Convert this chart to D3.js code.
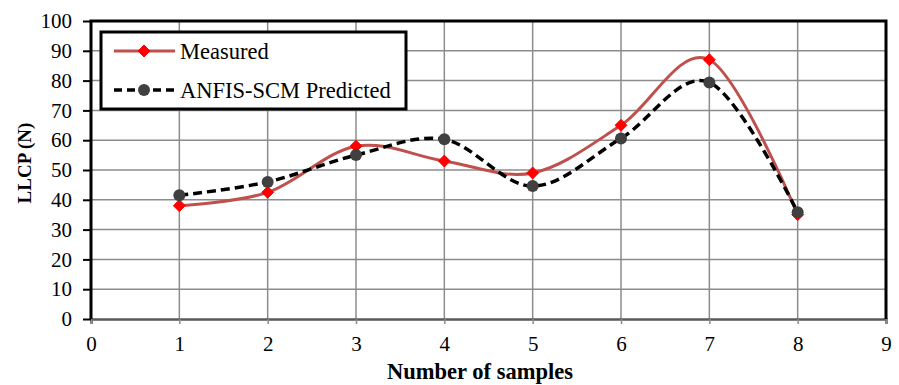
<!DOCTYPE html>
<html>
<head>
<meta charset="utf-8">
<script src="https://cdn.jsdelivr.net/npm/d3@7"></script>
<style>
  body { margin: 0; background: #fff; }
  svg text { font-family: 'Liberation Serif', Tinos, 'Times New Roman', Times, 'DejaVu Serif', serif; fill: #000; }
</style>
</head>
<body>
<div class="chart"></div>
<script>
// values
let samples = [1, 2, 3, 4, 5, 6, 7, 8];
let measured = [38, 42.5, 58, 53, 49, 65, 87, 35];
let predicted = [41.5, 46, 55, 60.3, 44.6, 60.6, 79.4, 35.8];
let xTicks = [0, 1, 2, 3, 4, 5, 6, 7, 8, 9];
let yTicks = [0, 10, 20, 30, 40, 50, 60, 70, 80, 90, 100];
let seriesNames = ["Measured", "ANFIS-SCM Predicted"];

let svgWidth = 899;
let svgHeight = 385;

let margin = { top: 21, right: 13, bottom: 66, left: 91 };
let width = svgWidth - margin.left - margin.right;
let height = svgHeight - margin.top - margin.bottom;

let svg = d3.select(".chart")
  .append("svg")
  .attr("width", svgWidth)
  .attr("height", svgHeight);

let chartGroup = svg.append("g")
  .attr("transform", `translate(${margin.left}, ${margin.top})`);

let xScale = d3.scaleLinear().domain([0, 9]).range([0, width]);
let yScale = d3.scaleLinear().domain([0, 100]).range([height, 0]);

// gridlines
chartGroup.append("g")
  .selectAll("line")
  .data(yTicks.slice(1))
  .enter()
  .append("line")
  .attr("x1", 0).attr("x2", width)
  .attr("y1", d => yScale(d)).attr("y2", d => yScale(d))
  .attr("stroke", "#8c8c8c").attr("stroke-width", 1.5);

chartGroup.append("g")
  .selectAll("line")
  .data(xTicks.slice(1))
  .enter()
  .append("line")
  .attr("x1", d => xScale(d)).attr("x2", d => xScale(d))
  .attr("y1", 0).attr("y2", height)
  .attr("stroke", "#8c8c8c").attr("stroke-width", 1.5);

// axes
let bottomAxis = d3.axisBottom(xScale).tickValues(xTicks).tickSize(5).tickPadding(12);
let leftAxis = d3.axisLeft(yScale).tickValues(yTicks).tickSize(8).tickPadding(11);

let xAxisG = chartGroup.append("g")
  .attr("transform", `translate(0, ${height})`)
  .call(bottomAxis)
  .attr("font-family", null);
xAxisG.select(".domain").attr("stroke", "#595959").attr("stroke-width", 2.5);
xAxisG.selectAll(".tick line").attr("stroke", "#8c8c8c").attr("stroke-width", 1.5);
xAxisG.selectAll(".tick text").style("font-size", "21px").attr("fill", "#000");

let yAxisG = chartGroup.append("g").call(leftAxis).attr("font-family", null);
yAxisG.select(".domain").remove();
yAxisG.selectAll(".tick line").attr("stroke", "#000").attr("stroke-width", 2);
yAxisG.selectAll(".tick text").style("font-size", "21px").attr("fill", "#000");

// plot border (top, left, right)
chartGroup.append("path")
  .attr("d", `M0,${height} V0 H${width} V${height}`)
  .attr("fill", "none")
  .attr("stroke", "#000")
  .attr("stroke-width", 3);

// lines
let lineOf = vals => d3.line()
  .x((d, i) => xScale(samples[i]))
  .y(d => yScale(d))
  .curve(d3.curveCatmullRom.alpha(0))(vals);

chartGroup.append("path")
  .attr("d", lineOf(measured))
  .attr("fill", "none")
  .attr("stroke", "#c0504d")
  .attr("stroke-width", 3);

chartGroup.append("path")
  .attr("d", lineOf(predicted))
  .attr("fill", "none")
  .attr("stroke", "#000")
  .attr("stroke-width", 3.5)
  .attr("stroke-dasharray", "9,5");

// markers
let diamond = d3.symbol().type(d3.symbolDiamond2).size(90);

chartGroup.selectAll(".mPt")
  .data(measured)
  .enter()
  .append("path")
  .attr("class", "mPt")
  .attr("d", diamond)
  .attr("transform", (d, i) => `translate(${xScale(samples[i])}, ${yScale(d)})`)
  .attr("fill", "#ff0000")
  .attr("stroke", "#ff0000")
  .attr("stroke-width", 1);

chartGroup.selectAll(".pPt")
  .data(predicted)
  .enter()
  .append("circle")
  .attr("class", "pPt")
  .attr("cx", (d, i) => xScale(samples[i]))
  .attr("cy", d => yScale(d))
  .attr("r", 6)
  .attr("fill", "#404040");

// legend
let legend = svg.append("g").attr("transform", "translate(101, 32)");
legend.append("rect")
  .attr("width", 305).attr("height", 77)
  .attr("fill", "#fff").attr("stroke", "#000").attr("stroke-width", 3);

let leg1 = legend.append("g").attr("transform", "translate(0, 19)");
leg1.append("line").attr("x1", 13).attr("x2", 74)
  .attr("stroke", "#c0504d").attr("stroke-width", 3);
leg1.append("path").attr("d", diamond).attr("transform", "translate(43, 0)")
  .attr("fill", "#ff0000").attr("stroke", "#ff0000");
leg1.append("text").attr("x", 79).attr("y", 7.5)
  .style("font-size", "22.5px").text(seriesNames[0]);

let leg2 = legend.append("g").attr("transform", "translate(0, 58)");
leg2.append("line").attr("x1", 13).attr("x2", 74)
  .attr("stroke", "#000").attr("stroke-width", 3.5).attr("stroke-dasharray", "8,5");
leg2.append("circle").attr("cx", 43).attr("r", 6).attr("fill", "#404040");
leg2.append("text").attr("x", 79).attr("y", 7.5)
  .style("font-size", "22.5px").text(seriesNames[1]);

// axis titles
svg.append("text")
  .attr("transform", "translate(31, 163) rotate(-90)")
  .attr("text-anchor", "middle")
  .style("font-size", "19px").style("font-weight", "bold")
  .text("LLCP (N)");

svg.append("text")
  .attr("x", 480).attr("y", 379)
  .attr("text-anchor", "middle")
  .style("font-size", "22.5px").style("font-weight", "bold")
  .text("Number of samples");
</script>
</body>
</html>
